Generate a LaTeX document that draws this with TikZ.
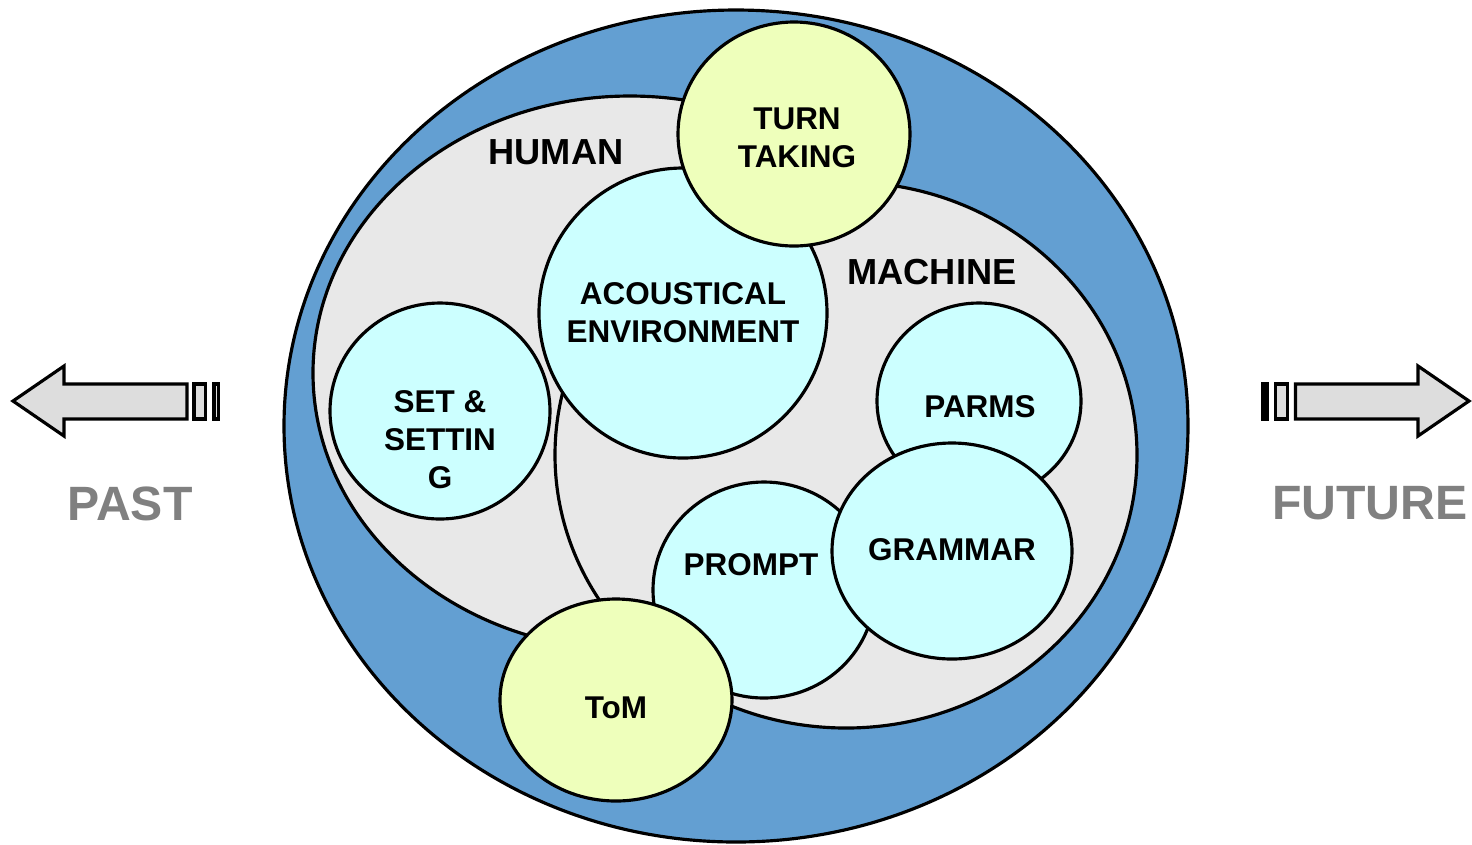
\documentclass[tikz,border=0pt]{standalone}
\usepackage{fontspec}
\setmainfont{Liberation Sans}
\usepackage{tikz}
\definecolor{ring}{HTML}{639FD2}
\definecolor{zone}{HTML}{E8E8E8}
\definecolor{cy}{HTML}{CCFFFF}
\definecolor{lm}{HTML}{EEFFBB}
\definecolor{arw}{HTML}{DDDDDD}
\definecolor{tim}{HTML}{808080}
\tikzset{
	bub/.style={draw, line width=0.9pt},
	lbl/.style={font=\fontsize{8.95pt}{10.8pt}\selectfont\bfseries, align=center, inner sep=0pt},
	big/.style={font=\fontsize{10.3pt}{12pt}\selectfont\bfseries, inner sep=0pt},
	when/.style={font=\fontsize{13.7pt}{16pt}\selectfont\bfseries, text=tim, inner sep=0pt}
}

\begin{document}
\begin{tikzpicture}[x=0.01cm,y=-0.01cm]
			\useasboundingbox (0,0) rectangle (1472,844);

			\draw[bub,fill=ring] (736,426) ellipse [x radius=452, y radius=416];
			\draw[bub,fill=zone] (630,373) ellipse [x radius=317, y radius=277];
			\draw[bub,fill=zone] (846,455) ellipse [x radius=291, y radius=273];

			\draw[bub,fill=cy] (440,411) ellipse [x radius=110, y radius=108];
			\draw[bub,fill=cy] (683,313) ellipse [x radius=144, y radius=145];
			\draw[bub,fill=lm] (794,134) ellipse [x radius=116, y radius=112];
			\draw[bub,fill=cy] (979,401) ellipse [x radius=102, y radius=98];
			\draw[bub,fill=cy] (764,590) ellipse [x radius=111, y radius=108];
			\draw[bub,fill=cy] (952,551) ellipse [x radius=120, y radius=108];
			\draw[bub,fill=lm] (616,700) ellipse [x radius=116, y radius=101];

			\node[big] (human) at (556,152) {HUMAN};
			\node[big] (machine) at (932,272) {MACHINE};
			\node[lbl] (turn) at (797,138) {TURN\\TAKING};
			\node[lbl] (acoustic) at (683,313) {ACOUSTICAL\\ENVIRONMENT};
			\node[lbl] (setting) at (440,440) {SET \&\\SETTIN\\G};
			\node[lbl] (parms) at (980,407) {PARMS};
			\node[lbl] (grammar) at (952,550) {GRAMMAR};
			\node[lbl] (prompt) at (751,565) {PROMPT};
			\node[lbl] (tom) at (616,708) {ToM};

			\draw[bub,fill=arw] (13,401) -- (64,366) -- (64,384) -- (187,384) -- (187,419) -- (64,419) -- (64,436) -- cycle;
			\draw[bub,fill=arw] (194,384) rectangle (205.5,419);
			\draw[bub,fill=arw] (214,384) rectangle (218.5,419);

			\draw[bub,fill=arw] (1469,401) -- (1418,366) -- (1418,384) -- (1295.5,384) -- (1295.5,419) -- (1418,419) -- (1418,436) -- cycle;
			\draw[bub,fill=arw] (1275.5,384) rectangle (1287.5,419);
			\draw[bub,fill=arw] (1263,384) rectangle (1267,419);

			\node[when] (past) at (130,504) {PAST};
			\node[when] (future) at (1370,503) {FUTURE};
		\end{tikzpicture}
\end{document}
